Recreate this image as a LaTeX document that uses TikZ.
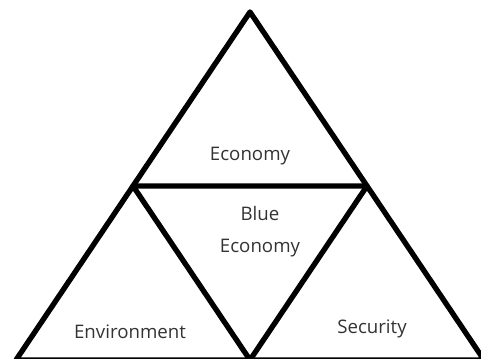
\documentclass[tikz,border=0pt]{standalone}
\usepackage{fontspec}
\newfontfamily\partfont{Open Sans}
\usepackage{tikz}
\usetikzlibrary{positioning}
\usetikzlibrary{calc}

\begin{document}
\begin{tikzpicture}[x=0.75pt,y=-0.75pt]
			\tikzstyle{side}=[line width=4pt, line join=round, line cap=round]
			\tikzstyle{part}=[font=\partfont\fontsize{14}{24}\selectfont, text=black!80, align=center, inner sep=0pt]
			
			\useasboundingbox (0,0) rectangle (481,359);
			
			\coordinate (top) at (250,12);
			\coordinate (left) at (16,360);
			\coordinate (right) at (484,360);
			\coordinate (ml) at ($(top)!0.5!(left)$);
			\coordinate (mr) at ($(top)!0.5!(right)$);
			\coordinate (mb) at ($(left)!0.5!(right)$);
			
			\draw [side] (top) -- (left) -- (right) -- cycle;
			\draw [side] (ml) -- (mr) -- (mb) -- cycle;
			
			\draw node at (250, 156) [part] (eco) {Economy};
			\draw node at (260, 232) [part] (blue) {Blue\\Economy};
			\draw node at (130, 332) [part] (env) {Environment};
			\draw node at (372, 329) [part] (sec) {Security};
\end{tikzpicture}
\end{document}
